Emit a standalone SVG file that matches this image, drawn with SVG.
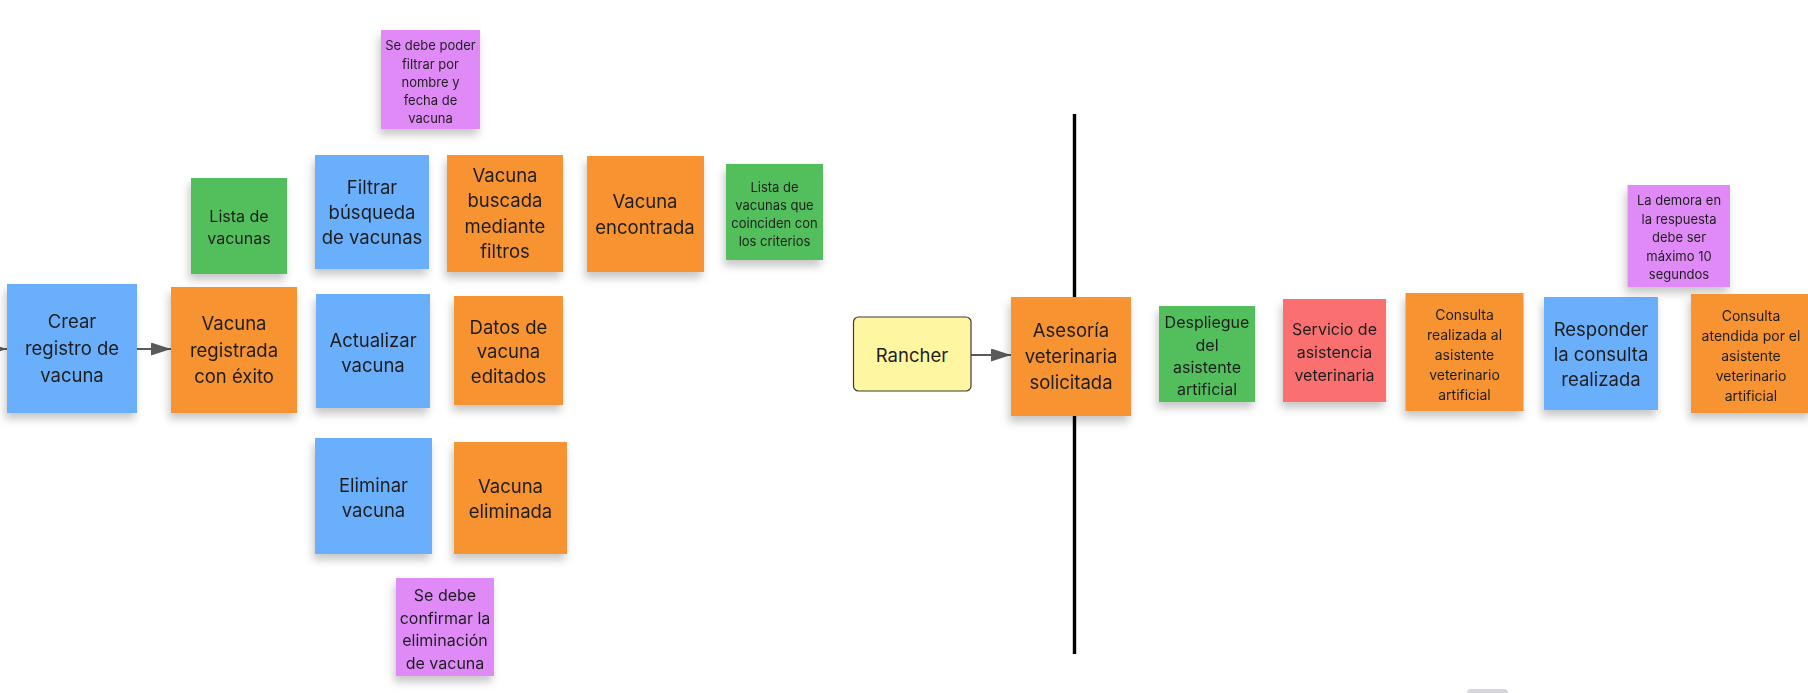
<svg xmlns="http://www.w3.org/2000/svg" width="1808" height="693" viewBox="0 0 1808 693">
<style>
text{font-family:Inter,"Noto Sans","Liberation Sans",sans-serif;fill:#1f1f1f;text-anchor:middle}
.n{filter:url(#sh)}
.blue{fill:#6aaffc}
.orange{fill:#f89332}
.green{fill:#52bf5c}
.purple{fill:#df8af7}
.red{fill:#fa7070}
.yellow{fill:#fff6a1;stroke:#3a3a3a;stroke-width:1.2}
.conn{stroke:#5a5a5a;stroke-width:2;fill:none}
.f18{font-size:18.5px}
.f16{font-size:16px}
.f14{font-size:14px}
.f13{font-size:13px}
</style>
<defs>
<filter id="sh" x="-20%" y="-20%" width="140%" height="150%">
<feDropShadow dx="-2" dy="6" stdDeviation="4" flood-color="#000" flood-opacity="0.22"/>
</filter>
<marker id="ah" markerWidth="20" markerHeight="13" refX="20" refY="6.5" orient="auto" markerUnits="userSpaceOnUse">
<path d="M0,0 L20,6.5 L0,13 z" fill="#5a5a5a"/>
</marker>
</defs>
<rect width="1808" height="693" fill="#ffffff"/>

<g id="connectors">
<line class="conn" x1="-40" y1="349" x2="7" y2="349" marker-end="url(#ah)"/>
<line class="conn" x1="137" y1="349" x2="171" y2="349" marker-end="url(#ah)"/>
<line class="conn" x1="971" y1="355" x2="1011" y2="355" marker-end="url(#ah)"/>
</g>

<g id="divider">
<line x1="1074.5" y1="114" x2="1074.5" y2="654" stroke="#000" stroke-width="3.4"/>
</g>

<g id="crear" class="n"><rect class="blue" x="7" y="284" width="130" height="129"/>
<text class="f18" x="72" y="328">Crear</text><text class="f18" x="72" y="354.5">registro de</text><text class="f18" x="72" y="381.5">vacuna</text></g>

<g id="vacuna-registrada" class="n"><rect class="orange" x="171" y="287" width="126" height="126"/>
<text class="f18" x="234" y="329.5">Vacuna</text><text class="f18" x="234" y="356.5">registrada</text><text class="f18" x="234" y="383">con éxito</text></g>

<g id="lista-vacunas" class="n"><rect class="green" x="191" y="178" width="96" height="96"/>
<text class="f16" x="239" y="222">Lista de</text><text class="f16" x="239" y="244">vacunas</text></g>

<g id="filtrar" class="n"><rect class="blue" x="315" y="155" width="114" height="114"/>
<text class="f18" x="372" y="194">Filtrar</text><text class="f18" x="372" y="219">búsqueda</text><text class="f18" x="372" y="244">de vacunas</text></g>

<g id="nota-filtrar" class="n"><rect class="purple" x="381" y="30" width="99" height="99"/>
<text class="f13" x="430.5" y="50">Se debe poder</text><text class="f13" x="430.5" y="68.5">filtrar por</text><text class="f13" x="430.5" y="87">nombre y</text><text class="f13" x="430.5" y="105">fecha de</text><text class="f13" x="430.5" y="123">vacuna</text></g>

<g id="vacuna-buscada" class="n"><rect class="orange" x="447" y="155" width="116" height="117"/>
<text class="f18" x="505" y="182">Vacuna</text><text class="f18" x="505" y="207">buscada</text><text class="f18" x="505" y="232.5">mediante</text><text class="f18" x="505" y="257.5">filtros</text></g>

<g id="vacuna-encontrada" class="n"><rect class="orange" x="587" y="156" width="117" height="116"/>
<text class="f18" x="645" y="208">Vacuna</text><text class="f18" x="645" y="234">encontrada</text></g>

<g id="lista-criterios" class="n"><rect class="green" x="726" y="164" width="97" height="96"/>
<text class="f13" x="774.5" y="192">Lista de</text><text class="f13" x="774.5" y="210">vacunas que</text><text class="f13" x="774.5" y="228">coinciden con</text><text class="f13" x="774.5" y="246">los criterios</text></g>

<g id="actualizar" class="n"><rect class="blue" x="316" y="294" width="114" height="114"/>
<text class="f18" x="373" y="346.5">Actualizar</text><text class="f18" x="373" y="371.5">vacuna</text></g>

<g id="datos-editados" class="n"><rect class="orange" x="454" y="296" width="109" height="109"/>
<text class="f18" x="508.5" y="334">Datos de</text><text class="f18" x="508.5" y="358">vacuna</text><text class="f18" x="508.5" y="382.5">editados</text></g>

<g id="eliminar" class="n"><rect class="blue" x="315" y="438" width="117" height="116"/>
<text class="f18" x="373.5" y="491.5">Eliminar</text><text class="f18" x="373.5" y="517">vacuna</text></g>

<g id="vacuna-eliminada" class="n"><rect class="orange" x="454" y="442" width="113" height="112"/>
<text class="f18" x="510.5" y="493">Vacuna</text><text class="f18" x="510.5" y="518">eliminada</text></g>

<g id="nota-eliminar" class="n"><rect class="purple" x="396" y="578" width="98" height="98"/>
<text class="f16" x="445" y="601">Se debe</text><text class="f16" x="445" y="624">confirmar la</text><text class="f16" x="445" y="646">eliminación</text><text class="f16" x="445" y="668.5">de vacuna</text></g>

<g id="rancher"><rect class="yellow" x="853.5" y="317" width="117.5" height="74" rx="5"/>
<text class="f18" x="912" y="361.5">Rancher</text></g>

<g id="asesoria" class="n"><rect class="orange" x="1011" y="297" width="120" height="119"/>
<text class="f18" x="1071" y="336.5">Asesoría</text><text class="f18" x="1071" y="362.5">veterinaria</text><text class="f18" x="1071" y="388.5">solicitada</text></g>

<g id="despliegue" class="n"><rect class="green" x="1159" y="306" width="96" height="96"/>
<text class="f16" x="1207" y="328">Despliegue</text><text class="f16" x="1207" y="350.5">del</text><text class="f16" x="1207" y="373">asistente</text><text class="f16" x="1207" y="395">artificial</text></g>

<g id="servicio" class="n"><rect class="red" x="1283" y="299" width="103" height="103"/>
<text class="f16" x="1334.5" y="335">Servicio de</text><text class="f16" x="1334.5" y="358">asistencia</text><text class="f16" x="1334.5" y="381">veterinaria</text></g>

<g id="consulta-realizada" class="n"><rect class="orange" x="1405.5" y="293" width="118" height="118"/>
<text class="f14" x="1464.5" y="319.5">Consulta</text><text class="f14" x="1464.5" y="339.5">realizada al</text><text class="f14" x="1464.5" y="359.5">asistente</text><text class="f14" x="1464.5" y="379.5">veterinario</text><text class="f14" x="1464.5" y="399.5">artificial</text></g>

<g id="responder" class="n"><rect class="blue" x="1544" y="297" width="114" height="113"/>
<text class="f18" x="1601" y="335.5">Responder</text><text class="f18" x="1601" y="360.5">la consulta</text><text class="f18" x="1601" y="385.5">realizada</text></g>

<g id="nota-demora" class="n"><rect class="purple" x="1627.5" y="185" width="102.5" height="102"/>
<text class="f13" x="1679" y="205">La demora en</text><text class="f13" x="1679" y="224">la respuesta</text><text class="f13" x="1679" y="242">debe ser</text><text class="f13" x="1679" y="260.5">máximo 10</text><text class="f13" x="1679" y="279">segundos</text></g>

<g id="consulta-atendida" class="n"><rect class="orange" x="1691" y="294" width="120" height="119"/>
<text class="f14" x="1751" y="321">Consulta</text><text class="f14" x="1751" y="341">atendida por el</text><text class="f14" x="1751" y="361">asistente</text><text class="f14" x="1751" y="381">veterinario</text><text class="f14" x="1751" y="401">artificial</text></g>

<rect x="1467" y="689" width="41" height="10" rx="4" fill="#d6d6db"/>
</svg>
